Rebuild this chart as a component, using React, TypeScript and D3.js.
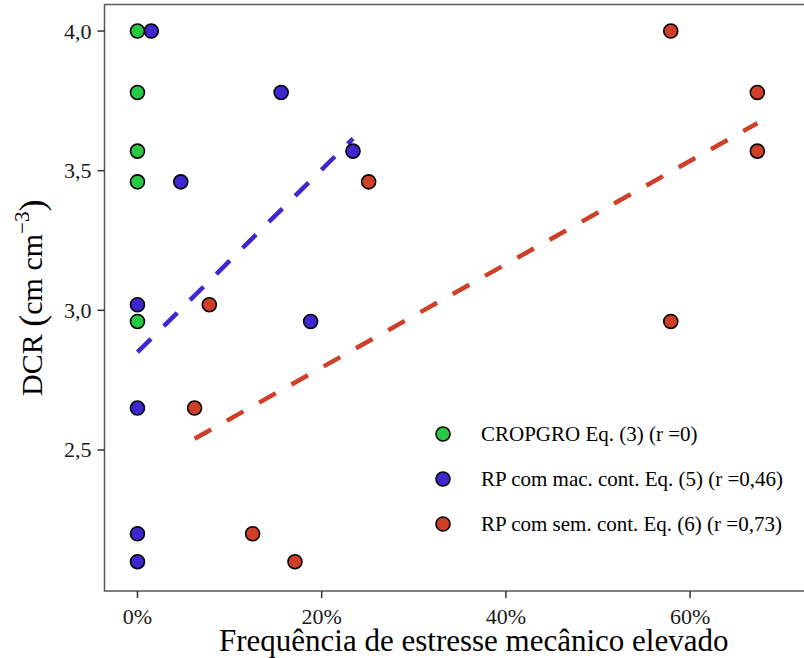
import React, { useEffect, useRef } from 'react';
import * as d3 from 'd3';

// CROPGRO Eq. (3)
const greenX = [0, 0, 0, 0, 0];
const greenY = [4.0, 3.78, 3.57, 3.46, 2.96];
// RP com mac. cont. Eq. (5)
const blueX = [1.5, 15.6, 23.4, 4.7, 0, 18.8, 0, 0, 0];
const blueY = [4.0, 3.78, 3.57, 3.46, 3.02, 2.96, 2.65, 2.2, 2.1];
// RP com sem. cont. Eq. (6)
const redX = [57.9, 67.3, 67.3, 25.1, 7.8, 57.9, 6.2, 12.5, 17.1];
const redY = [4.0, 3.78, 3.57, 3.46, 3.02, 2.96, 2.65, 2.2, 2.1];

// fitted lines (start, end)
const blueFitX = [0, 23.4];
const blueFitY = [2.85, 3.615];
const redFitX = [6.2, 67.3];
const redFitY = [2.54, 3.67];

const xTicks = [0, 20, 40, 60];
const yTicks = [2.5, 3.0, 3.5, 4.0];

const legendLabels = [
  'CROPGRO Eq. (3) (r =0)',
  'RP com mac. cont. Eq. (5) (r =0,46)',
  'RP com sem. cont. Eq. (6) (r =0,73)',
];
const colors = ['#26c941', '#3f27cf', '#cf3f27'];

const W = 804;
const H = 658;
const FONT = '"Liberation Serif", "Times New Roman", serif';

const App = () => {
  const svgRef = useRef<SVGSVGElement>(null);

  useEffect(() => {
    const svg = d3.select(svgRef.current);
    svg.selectAll('*').remove();

    // panel runs past the right edge of the picture (cropped)
    const left = 104.5;
    const top = 4.5;
    const bottom = 591;
    const right = 843;

    const x = d3.scaleLinear().domain([-3.58, 76.6]).range([left, right]);
    const y = d3.scaleLinear().domain([1.995, 4.095]).range([bottom, top]);

    svg.append('rect').attr('width', W).attr('height', H).attr('fill', '#fff');

    // panel border
    svg
      .append('rect')
      .attr('x', left)
      .attr('y', top)
      .attr('width', right - left)
      .attr('height', bottom - top)
      .attr('fill', 'none')
      .attr('stroke', '#595959')
      .attr('stroke-width', 1.5);

    // y axis ticks
    const yAx = svg.append('g');
    yTicks.forEach(t => {
      yAx
        .append('line')
        .attr('x1', left - 7)
        .attr('x2', left)
        .attr('y1', y(t))
        .attr('y2', y(t))
        .attr('stroke', '#333')
        .attr('stroke-width', 1.5);
      yAx
        .append('text')
        .attr('x', left - 13)
        .attr('y', y(t))
        .attr('dy', '0.34em')
        .attr('text-anchor', 'end')
        .style('font-family', FONT)
        .style('font-size', '22px')
        .attr('fill', '#1a1a1a')
        .text(d3.format('.1f')(t).replace('.', ','));
    });

    // x axis ticks
    const xAx = svg.append('g');
    xTicks.forEach(t => {
      xAx
        .append('line')
        .attr('x1', x(t))
        .attr('x2', x(t))
        .attr('y1', bottom)
        .attr('y2', bottom + 7)
        .attr('stroke', '#333')
        .attr('stroke-width', 1.5);
      xAx
        .append('text')
        .attr('x', x(t))
        .attr('y', bottom + 33)
        .attr('text-anchor', 'middle')
        .style('font-family', FONT)
        .style('font-size', '22px')
        .attr('fill', '#1a1a1a')
        .text(`${t}%`);
    });

    // axis titles
    svg
      .append('text')
      .attr('x', (left + right) / 2)
      .attr('y', 651)
      .attr('text-anchor', 'middle')
      .style('font-family', FONT)
      .style('font-size', '31px')
      .attr('fill', '#000')
      .text('Frequência de estresse mecânico elevado');

    const yt = svg
      .append('text')
      .attr('transform', `translate(42, ${(top + bottom) / 2}) rotate(-90)`)
      .attr('text-anchor', 'middle')
      .style('font-family', FONT)
      .style('font-size', '30px')
      .attr('fill', '#000');
    yt.append('tspan').text('DCR ');
    yt.append('tspan').style('font-size', '36px').attr('dy', 2).text('(');
    yt.append('tspan').attr('dy', -2).text('cm cm');
    yt.append('tspan').style('font-size', '21px').attr('dy', -13).text('−3');
    yt.append('tspan').style('font-size', '36px').attr('dy', 15).text(')');

    // fitted lines
    const line = d3
      .line<[number, number]>()
      .x(d => x(d[0]))
      .y(d => y(d[1]));
    const fits: [number[], number[], string][] = [
      [blueFitX, blueFitY, colors[1]],
      [redFitX, redFitY, colors[2]],
    ];
    fits.forEach(([fx, fy, c]) => {
      svg
        .append('path')
        .attr('d', line(fx.map((v, i) => [v, fy[i]] as [number, number])))
        .attr('fill', 'none')
        .attr('stroke', c)
        .attr('stroke-width', 4.5)
        .attr('stroke-dasharray', '19,18');
    });

    // points
    const series: [number[], number[], string][] = [
      [blueX, blueY, colors[1]],
      [greenX, greenY, colors[0]],
      [redX, redY, colors[2]],
    ];
    series.forEach(([sx, sy, c]) => {
      svg
        .append('g')
        .selectAll('circle')
        .data(sx.map((v, i) => [v, sy[i]]))
        .enter()
        .append('circle')
        .attr('cx', d => x(d[0]))
        .attr('cy', d => y(d[1]))
        .attr('r', 7)
        .attr('fill', c)
        .attr('stroke', '#000')
        .attr('stroke-width', 1.6);
    });

    // legend
    const lg = svg.append('g').attr('transform', 'translate(443, 434)');
    legendLabels.forEach((lab, i) => {
      const gy = i * 45;
      lg.append('circle')
        .attr('cx', 0)
        .attr('cy', gy)
        .attr('r', 7)
        .attr('fill', colors[i])
        .attr('stroke', '#000')
        .attr('stroke-width', 1.6);
      lg.append('text')
        .attr('x', 38)
        .attr('y', gy)
        .attr('dy', '0.34em')
        .style('font-family', FONT)
        .style('font-size', '21px')
        .attr('fill', '#000')
        .text(lab);
    });
  }, []);

  return (
    <div style={{ position: 'absolute', left: 0, top: 0 }}>
      <svg ref={svgRef} width={W} height={H} style={{ display: 'block' }} />
    </div>
  );
};

export default App;
